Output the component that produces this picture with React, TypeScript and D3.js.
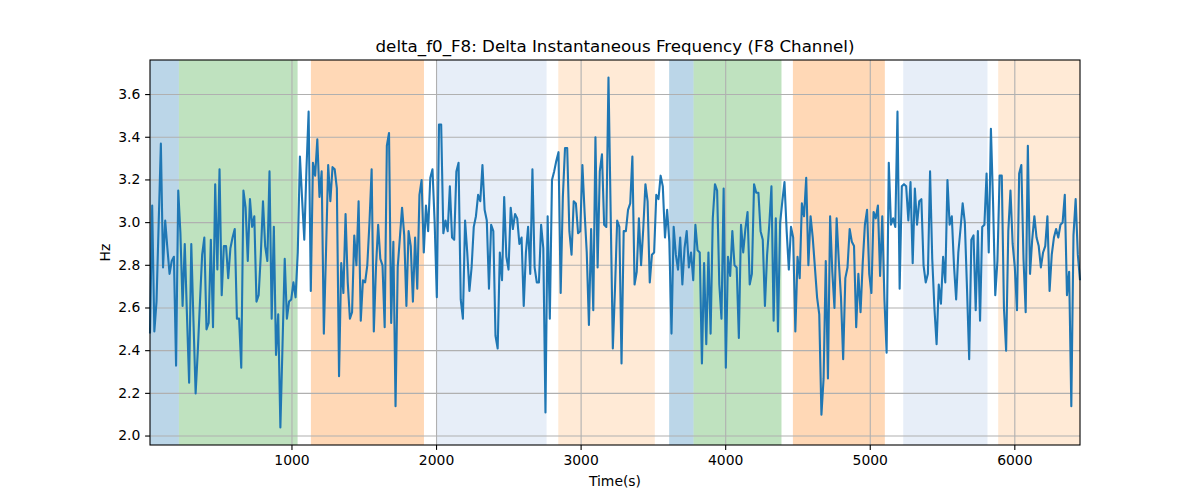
import React from "react";
import * as d3 from "d3";

// time axis: first sample and sample spacing (s)
const T0 = 18;
const STEP = 15.03;

// delta instantaneous frequency, F8 channel (Hz)
const hzValues: number[] = [
  2.48, 3.08, 2.49, 2.63, 3.00, 3.37, 2.79, 3.01, 2.88, 2.76, 2.82, 2.84, 2.33, 3.15, 2.95, 2.61, 2.90, 2.57, 2.25, 2.90, 2.54, 2.20, 2.40, 2.63, 2.85, 2.93, 2.50, 2.53, 2.92, 2.51, 3.18, 2.78, 3.25, 2.66, 2.89, 2.89, 2.74, 2.88, 2.93, 2.97, 2.55, 2.55, 2.32, 3.15,
  3.07, 2.82, 3.11, 2.98, 3.03, 2.63, 2.66, 2.85, 3.10, 2.89, 2.82, 3.24, 2.55, 2.98, 2.38, 2.57, 2.04, 2.43, 2.83, 2.55, 2.63, 2.64, 2.72, 2.65, 2.86, 3.31, 3.11, 2.92, 3.25, 3.52, 2.68, 3.28, 3.22, 3.39, 3.12, 3.24, 2.48, 2.86, 3.27, 3.10, 3.26, 3.25, 3.16,
  2.28, 2.81, 2.67, 3.04, 2.72, 2.55, 2.58, 2.94, 2.80, 3.10, 2.54, 2.73, 2.72, 2.80, 3.00, 3.25, 2.49, 2.79, 2.99, 2.83, 2.80, 2.51, 3.36, 3.42, 2.53, 2.91, 2.14, 2.79, 2.93, 3.07, 2.94, 2.61, 2.96, 2.89, 2.63, 2.93, 2.69, 3.13, 3.20, 2.86, 3.08, 2.96, 3.21, 3.25,
  3.00, 2.65, 3.46, 3.46, 2.95, 3.01, 2.96, 3.17, 2.93, 2.92, 3.24, 3.28, 2.64, 2.55, 3.01, 2.86, 2.68, 2.79, 2.98, 3.03, 3.13, 3.10, 3.27, 3.06, 3.01, 2.69, 2.99, 2.96, 2.47, 2.41, 2.86, 2.73, 3.12, 2.84, 2.78, 3.07, 2.97, 3.04, 3.02, 2.90, 2.93, 2.61, 2.86, 2.98,
  2.76, 3.25, 2.79, 2.72, 2.72, 2.99, 2.88, 2.11, 3.03, 2.55, 3.20, 3.24, 3.29, 3.33, 2.67, 3.12, 3.35, 3.35, 2.96, 2.85, 3.10, 3.09, 2.95, 2.96, 3.27, 3.05, 2.86, 2.52, 2.97, 2.59, 3.40, 2.79, 3.24, 3.32, 2.99, 2.98, 3.68, 3.05, 2.41, 2.69, 3.01, 2.98, 2.34, 2.96,
  2.96, 3.06, 3.09, 3.31, 2.71, 2.77, 3.02, 2.80, 2.97, 3.18, 3.10, 2.72, 2.85, 2.86, 3.13, 3.11, 3.22, 3.17, 2.93, 3.06, 2.91, 2.48, 2.98, 2.85, 2.78, 2.93, 2.71, 2.88, 2.96, 2.79, 2.86, 2.73, 2.99, 2.87, 2.86, 2.34, 2.81, 2.43, 2.86, 2.48, 3.02, 3.18, 3.15, 2.71,
  2.55, 3.16, 2.32, 2.84, 2.75, 2.96, 2.80, 2.79, 2.46, 2.99, 2.86, 2.97, 3.05, 2.71, 2.76, 3.18, 3.14, 3.14, 2.96, 2.92, 2.61, 2.85, 2.99, 3.17, 2.54, 3.02, 2.49, 3.00, 3.10, 3.19, 2.96, 2.78, 2.98, 2.93, 2.49, 2.84, 2.74, 3.09, 3.03, 3.21, 2.80, 3.03, 2.93, 2.79,
  2.65, 2.57, 2.10, 2.27, 2.82, 2.27, 3.03, 2.77, 2.60, 3.02, 2.82, 2.65, 2.36, 2.74, 2.79, 2.97, 2.91, 2.89, 2.51, 2.76, 2.58, 2.81, 2.99, 3.06, 2.76, 2.67, 3.05, 3.02, 3.08, 2.75, 3.03, 2.64, 2.39, 3.28, 2.99, 3.02, 2.98, 3.52, 2.69, 3.17, 3.18, 3.17, 3.01,
  3.19, 2.81, 3.16, 2.99, 3.10, 3.11, 2.80, 2.72, 2.76, 3.24, 2.83, 2.60, 2.43, 2.71, 2.62, 2.84, 2.72, 3.20, 2.99, 3.03, 2.80, 2.64, 2.86, 2.97, 3.09, 3.00, 2.69, 2.36, 2.92, 2.94, 2.59, 2.96, 2.54, 2.98, 2.99, 3.23, 2.86, 3.44, 3.09, 2.66, 2.82, 3.22, 3.22, 2.60,
  2.40, 2.96, 3.15, 2.90, 2.79, 2.59, 3.23, 3.27, 2.83, 2.58, 3.36, 2.76, 2.92, 3.03, 2.93, 2.89, 2.79, 2.86, 2.89, 3.03, 2.68, 2.85, 2.93, 2.97, 2.93, 2.99, 3.00, 3.13, 2.66, 2.77, 2.14, 2.94, 3.11, 2.85, 2.73,
];

// shaded stages: start, end (s) and colour
const spanStarts = [18, 218, 1131, 2000, 2842, 3609, 3778, 4465, 5228, 5885];
const spanEnds = [218, 1039, 1913, 2761, 3510, 3778, 4386, 5101, 5811, 6450];
const spanColors = [
  "#1f77b4", "#2ca02c", "#ff7f0e", "#aec7e8", "#ffbb78",
  "#1f77b4", "#2ca02c", "#ff7f0e", "#aec7e8", "#ffbb78",
];

const xTicks = [1000, 2000, 3000, 4000, 5000, 6000];
const yTicks = [2.0, 2.2, 2.4, 2.6, 2.8, 3.0, 3.2, 3.4, 3.6];

const W = 1200;
const H = 500;
const margin = { top: 60, right: 120, bottom: 55, left: 150 };
const FONT = "DejaVu Sans, sans-serif";

const App = () => {
  const points = hzValues.map((v, i) => [T0 + i * STEP, v] as [number, number]);
  const innerW = W - margin.left - margin.right;
  const innerH = H - margin.top - margin.bottom;

  const x = d3
    .scaleLinear()
    .domain(d3.extent(points, (d) => d[0]) as [number, number])
    .range([0, innerW]);
  const [lo, hi] = d3.extent(hzValues) as [number, number];
  const pad = (hi - lo) * 0.05;
  const y = d3.scaleLinear().domain([lo - pad, hi + pad]).range([innerH, 0]);

  const line = d3
    .line<[number, number]>()
    .x((d) => x(d[0]))
    .y((d) => y(d[1]));

  return (
    <div style={{ position: "absolute", left: 0, top: 0 }}>
      <svg width={W} height={H} style={{ display: "block", background: "#fff" }}>
        <text
          x={margin.left + innerW / 2}
          y={margin.top - 8}
          textAnchor="middle"
          fontFamily={FONT}
          fontSize={16.7}
        >
          delta_f0_F8: Delta Instantaneous Frequency (F8 Channel)
        </text>
        <g transform={`translate(${margin.left},${margin.top})`}>
          {spanStarts.map((s, i) => (
            <rect
              key={i}
              x={x(s)}
              y={0}
              width={x(spanEnds[i]) - x(s)}
              height={innerH}
              fill={spanColors[i]}
              fillOpacity={0.3}
            />
          ))}
          {xTicks.map((t) => (
            <line key={t} x1={x(t)} x2={x(t)} y1={0} y2={innerH} stroke="#b0b0b0" strokeWidth={1.1} />
          ))}
          {yTicks.map((t) => (
            <line key={t} x1={0} x2={innerW} y1={y(t)} y2={y(t)} stroke="#b0b0b0" strokeWidth={1.1} />
          ))}
          <path d={line(points) ?? ""} fill="none" stroke="#1f77b4" strokeWidth={2.1} strokeLinejoin="round" />
          <rect x={0} y={0} width={innerW} height={innerH} fill="none" stroke="#000" strokeWidth={1.1} />
          {xTicks.map((t) => (
            <g key={t} transform={`translate(${x(t)},${innerH})`}>
              <line y2={4.9} stroke="#000" strokeWidth={1.1} />
              <text y={9.7} dy="0.76em" textAnchor="middle" fontFamily={FONT} fontSize={13.9}>
                {t}
              </text>
            </g>
          ))}
          {yTicks.map((t) => (
            <g key={t} transform={`translate(0,${y(t)})`}>
              <line x2={-4.9} stroke="#000" strokeWidth={1.1} />
              <text x={-9.7} dy="0.32em" textAnchor="end" fontFamily={FONT} fontSize={13.9}>
                {t.toFixed(1)}
              </text>
            </g>
          ))}
          <text
            x={innerW / 2}
            y={innerH + 41}
            textAnchor="middle"
            fontFamily={FONT}
            fontSize={13.9}
          >
            Time(s)
          </text>
          <text
            transform={`translate(-40,${innerH / 2}) rotate(-90)`}
            textAnchor="middle"
            fontFamily={FONT}
            fontSize={13.9}
          >
            Hz
          </text>
        </g>
      </svg>
    </div>
  );
};

export default App;
